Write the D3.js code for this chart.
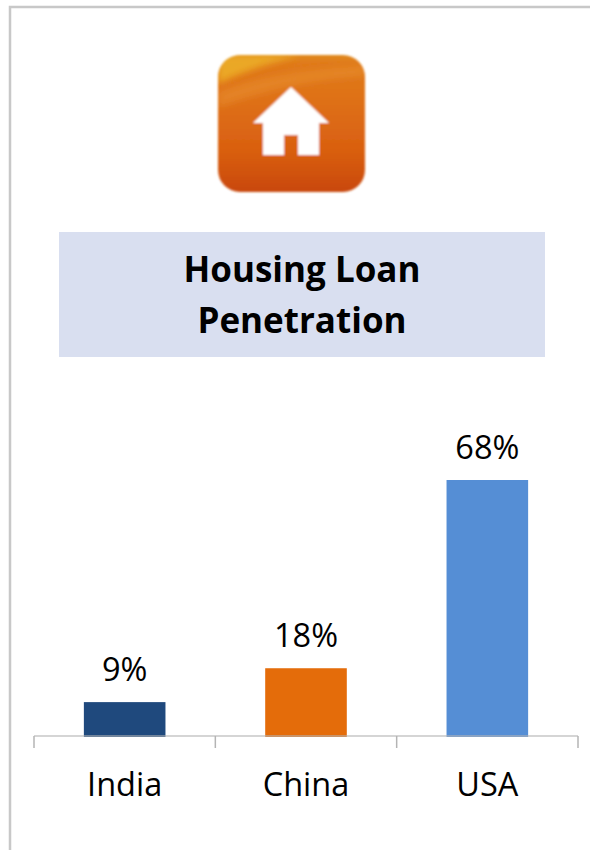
<!DOCTYPE html>
<html>
<head>
<meta charset="utf-8">
<script src="https://cdn.jsdelivr.net/npm/d3@7"></script>
<style>
    html, body { margin: 0; padding: 0; background: #fff; }
    svg { display: block; }
    text { font-family: "Open Sans", sans-serif; fill: #000; }
</style>
</head>
<body>
<svg id="chart" width="590" height="850"></svg>
<script>
const countries = ['India', 'China', 'USA'];
const penetration = [9, 18, 68];
const barColors = ['#1f497d', '#e46c0a', '#558ed5'];
const titleLines = ['Housing Loan', 'Penetration'];

const svg = d3.select('#chart');

// Outer frame, open on the right and at the bottom
svg.append('path')
    .attr('d', 'M10,850V7H590')
    .attr('fill', 'none')
    .attr('stroke', '#c8c8c8')
    .attr('stroke-width', 2.5);

// House icon
const defs = svg.append('defs');
const iconGrad = defs.append('linearGradient')
    .attr('id', 'iconGrad')
    .attr('x1', 0).attr('y1', 0).attr('x2', 0).attr('y2', 1);
iconGrad.selectAll('stop')
    .data([[0, '#e08a1e'], [0.06, '#e07a1a'], [0.3, '#df7218'], [0.7, '#d95f10'], [1, '#c9480e']])
    .enter()
    .append('stop')
    .attr('offset', d => d[0])
    .attr('stop-color', d => d[1]);
defs.append('filter')
    .attr('id', 'soft')
    .append('feGaussianBlur')
    .attr('stdDeviation', 0.8);
defs.append('filter')
    .attr('id', 'softer')
    .append('feGaussianBlur')
    .attr('stdDeviation', 3);
defs.append('clipPath')
    .attr('id', 'iconClip')
    .append('rect')
    .attr('x', 218).attr('y', 55)
    .attr('width', 147).attr('height', 137)
    .attr('rx', 22);

const icon = svg.append('g').attr('class', 'icon').attr('filter', 'url(#soft)');
icon.append('rect')
    .attr('x', 218).attr('y', 55)
    .attr('width', 147).attr('height', 137)
    .attr('rx', 22)
    .attr('fill', 'url(#iconGrad)');
// yellow glow in the top left corner and a lighter swoosh below it
const iconShade = icon.append('g').attr('clip-path', 'url(#iconClip)');
iconShade.append('path')
    .attr('d', 'M218,55H300C275,62 245,70 218,84Z')
    .attr('fill', '#edb42a')
    .attr('opacity', 0.8)
    .attr('filter', 'url(#softer)');
iconShade.append('path')
    .attr('d', 'M218,92C260,76 300,70 365,66V76C310,80 265,90 218,108Z')
    .attr('fill', '#eb9a3a')
    .attr('opacity', 0.4)
    .attr('filter', 'url(#softer)');
icon.append('path')
    .attr('d', 'M291,87L329,123H319V155H298V135H284V155H263V123H253Z')
    .attr('fill', '#fff');

// Title box
svg.append('rect')
    .attr('x', 59).attr('y', 232)
    .attr('width', 486).attr('height', 125)
    .attr('fill', '#d9dff0');

svg.append('g')
    .selectAll('text')
    .data(titleLines)
    .enter()
    .append('text')
    .attr('x', 302)
    .attr('y', (d, i) => 282 + i * 51)
    .attr('text-anchor', 'middle')
    .attr('font-size', 35)
    .attr('font-weight', 700)
    .text(d => d);

// Bars
const baseline = 736;
const x = d3.scaleBand().domain(countries).range([34, 578]).paddingInner(0.55).paddingOuter(0.275);
const y = d3.scaleLinear().domain([0, 68]).range([baseline, 480]);

svg.append('g')
    .selectAll('rect')
    .data(countries)
    .enter()
    .append('rect')
    .attr('x', d => x(d))
    .attr('y', (d, i) => y(penetration[i]))
    .attr('width', x.bandwidth())
    .attr('height', (d, i) => baseline + 1 - y(penetration[i]))
    .attr('fill', (d, i) => barColors[i]);

svg.append('g')
    .selectAll('text')
    .data(countries)
    .enter()
    .append('text')
    .attr('x', d => x(d) + x.bandwidth() / 2)
    .attr('y', (d, i) => y(penetration[i]) - 21)
    .attr('text-anchor', 'middle')
    .attr('font-size', 32.5)
    .text((d, i) => penetration[i] + '%');

// Axis with ticks on the category boundaries
const step = x.step();
const boundaries = d3.range(countries.length + 1).map(i => 34 + i * step);
const axis = svg.append('g').attr('stroke', '#b4b4b4').attr('stroke-width', 1.5);
axis.append('line')
    .attr('x1', 34).attr('x2', 578)
    .attr('y1', baseline).attr('y2', baseline)
    .attr('stroke-opacity', 0.75);
axis.selectAll('.tick')
    .data(boundaries)
    .enter()
    .append('line')
    .attr('class', 'tick')
    .attr('x1', d => d).attr('x2', d => d)
    .attr('y1', baseline).attr('y2', baseline + 12);

svg.append('g')
    .selectAll('text')
    .data(countries)
    .enter()
    .append('text')
    .attr('x', d => x(d) + x.bandwidth() / 2)
    .attr('y', 796)
    .attr('text-anchor', 'middle')
    .attr('font-size', 32.5)
    .text(d => d);
</script>
</body>
</html>
